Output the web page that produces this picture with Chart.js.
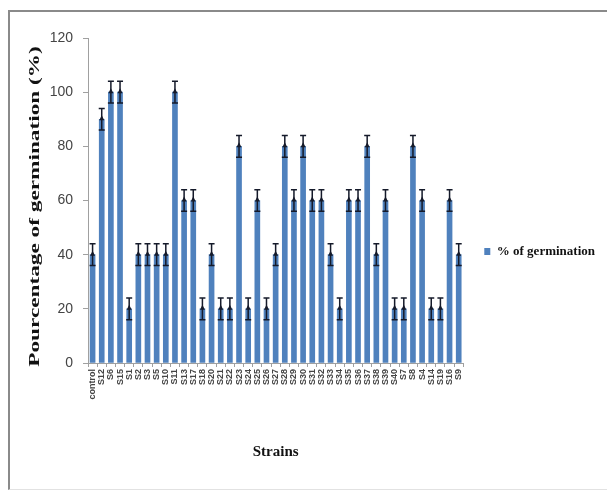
<!DOCTYPE html>
<html>
<head>
<meta charset="utf-8">
<script src="https://cdn.jsdelivr.net/npm/chart.js@4.4.0/dist/chart.umd.min.js"></script>
<style>
    body { margin: 0; background: #fff; overflow: hidden; }
    #wrap { position: relative; width: 607px; height: 491px; }
    #frame {
        position: absolute; left: 8px; top: 10px; width: 620px; height: 477px;
        border-top: 2px solid #8a8a8a; border-left: 2px solid #8a8a8a;
        border-bottom: 1px solid #e2e2e2; pointer-events: none;
    }
    canvas { position: absolute; left: 0; top: 0; }
</style>
</head>
<body>
<div id="wrap">
    <canvas id="barChart" width="607" height="491"></canvas>
    <div id="frame"></div>
</div>
<script>
// Strains on the x axis
const strains = ['control', 'S12', 'S6', 'S15', 'S1', 'S2', 'S3', 'S5', 'S10', 'S11',
    'S13', 'S17', 'S18', 'S20', 'S21', 'S22', 'S23', 'S24', 'S25', 'S26',
    'S27', 'S28', 'S29', 'S30', 'S31', 'S32', 'S33', 'S34', 'S35', 'S36',
    'S37', 'S38', 'S39', 'S40', 'S7', 'S8', 'S4', 'S14', 'S19', 'S16', 'S9'];

// % of germination for each strain
const germination = [40, 90, 100, 100, 20, 40, 40, 40, 40, 100,
    60, 60, 20, 40, 20, 20, 80, 20, 60, 20,
    40, 80, 60, 80, 60, 60, 40, 20, 60, 60,
    80, 40, 60, 20, 20, 80, 60, 20, 20, 60, 40];

// error bar size for each strain
const errors = [4, 4, 4, 4, 4, 4, 4, 4, 4, 4,
    4, 4, 4, 4, 4, 4, 4, 4, 4, 4,
    4, 4, 4, 4, 4, 4, 4, 4, 4, 4,
    4, 4, 4, 4, 4, 4, 4, 4, 4, 4, 4];

const yTicks = [0, 20, 40, 60, 80, 100, 120];
const yTitle = 'Pourcentage of germination (%)';

// Plugin that draws the error bars on top of each bar
const errorBars = {
    id: 'errorBars',
    afterDatasetsDraw(chart) {
        const ctx = chart.ctx;
        const yScale = chart.scales.y;
        const meta = chart.getDatasetMeta(0);
        ctx.save();
        ctx.strokeStyle = '#151a2a';
        ctx.fillStyle = '#151a2a';
        ctx.lineWidth = 1.5;
        meta.data.forEach((bar, i) => {
            const x = bar.x;
            const top = yScale.getPixelForValue(germination[i] + errors[i]);
            const bottom = yScale.getPixelForValue(germination[i] - errors[i]);
            const mid = yScale.getPixelForValue(germination[i]);
            ctx.beginPath();
            ctx.moveTo(x, top);
            ctx.lineTo(x, bottom);
            ctx.moveTo(x - 3, top);
            ctx.lineTo(x + 3, top);
            ctx.moveTo(x - 3, bottom);
            ctx.lineTo(x + 3, bottom);
            ctx.stroke();
            // small marker at the mean
            ctx.beginPath();
            ctx.moveTo(x, mid - 4);
            ctx.lineTo(x - 2.5, mid + 1);
            ctx.lineTo(x + 2.5, mid + 1);
            ctx.closePath();
            ctx.fill();
        });
        ctx.restore();
    }
};

// Plugin for the y axis title, which is stretched along its length in the original
const yAxisTitle = {
    id: 'yAxisTitle',
    afterDraw(chart) {
        const ctx = chart.ctx;
        const area = chart.chartArea;
        ctx.save();
        ctx.translate(35, (area.top + area.bottom) / 2 + 6);
        ctx.rotate(-Math.PI / 2);
        ctx.scale(1.55, 1);
        ctx.font = 'bold 15px "Liberation Serif"';
        ctx.fillStyle = '#111';
        ctx.textAlign = 'center';
        ctx.textBaseline = 'middle';
        ctx.fillText(yTitle, 0, 0);
        ctx.restore();
    }
};

const ctx = document.getElementById('barChart').getContext('2d');

const data = {
    labels: strains,
    datasets: [{
        label: '% of germination',
        data: germination,
        backgroundColor: '#4f81bd',
        borderWidth: 0,
        barThickness: 5
    }]
};

const options = {
    responsive: false,
    animation: false,
    layout: {
        padding: { left: 22, top: 38, right: 2, bottom: 26 }
    },
    plugins: {
        legend: {
            position: 'right',
            labels: {
                boxWidth: 6,
                boxHeight: 7,
                padding: 21,
                color: '#111',
                font: { family: 'Liberation Serif', size: 13, weight: 'bold' }
            }
        },
        tooltip: { enabled: false }
    },
    scales: {
        x: {
            grid: { drawOnChartArea: false, tickLength: 4, color: '#a0a0a0' },
            border: { color: '#a0a0a0' },
            ticks: {
                autoSkip: false,
                maxRotation: 90,
                minRotation: 90,
                padding: 2,
                color: '#444',
                font: { family: 'Liberation Sans', size: 9, weight: 'bold' }
            },
            title: {
                display: true,
                text: 'Strains',
                color: '#111',
                font: { family: 'Liberation Serif', size: 15, weight: 'bold' }
            },
            afterFit(scale) { scale.height = 102; }
        },
        y: {
            min: 0,
            max: 120,
            afterBuildTicks(scale) { scale.ticks = yTicks.map(v => ({ value: v })); },
            grid: { drawOnChartArea: false, tickLength: 5, color: '#a0a0a0' },
            border: { color: '#a0a0a0' },
            ticks: {
                padding: 10,
                color: '#444',
                font: { family: 'Liberation Sans', size: 14 }
            },
            afterFit(scale) { scale.width = 66; }
        }
    }
};

window.myBarChart = new Chart(ctx, {
    type: 'bar',
    data: data,
    options: options,
    plugins: [errorBars, yAxisTitle]
});
</script>
</body>
</html>
